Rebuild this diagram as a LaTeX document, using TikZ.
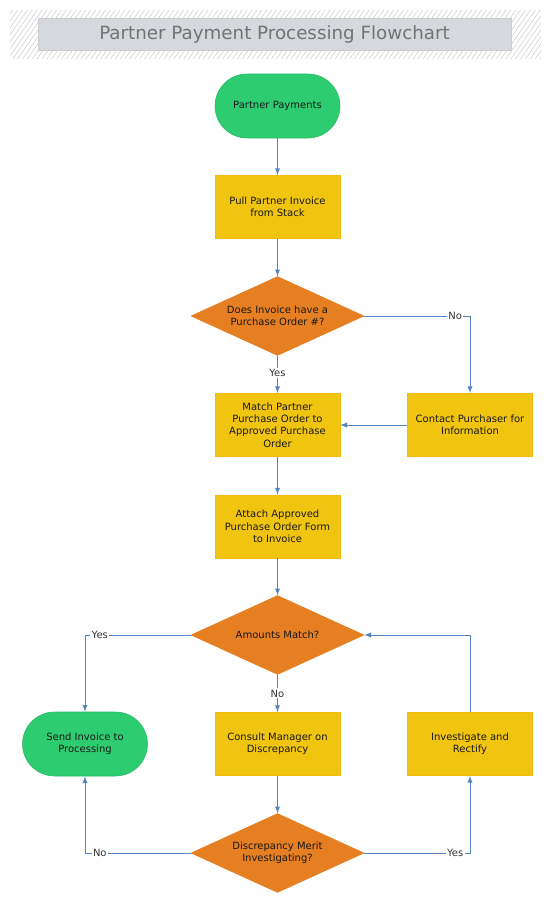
\documentclass[tikz,border=0pt]{standalone}
\usepackage{fontspec}
\setmainfont{DejaVu Sans}
\usetikzlibrary{arrows}
\usetikzlibrary{shapes.geometric,patterns.meta}

\definecolor{termgreen}{RGB}{46,204,113}
\definecolor{stepyellow}{RGB}{241,196,15}
\definecolor{askorange}{RGB}{230,126,34}
\definecolor{linkblue}{RGB}{84,132,190}
\definecolor{titlegrey}{RGB}{213,216,220}

\tikzset{
  terminal/.style={rectangle,rounded corners=24pt,fill=termgreen,draw=termgreen!90!black,
    minimum width=93.75pt,minimum height=48pt,align=center,inner sep=2pt},
  stepbox/.style={rectangle,fill=stepyellow,draw=stepyellow!85!orange,
    minimum width=93.75pt,minimum height=47.5pt,align=center,inner sep=2pt},
  ask/.style={diamond,fill=askorange,draw=askorange,aspect=2.2,inner sep=0pt,
    minimum width=129.75pt,minimum height=59.25pt,align=center},
  link/.style={draw=linkblue,line width=0.75pt,-latex},
  answer/.style={fill=white,inner sep=1pt,text=black!80}
}

\begin{document}
\begin{tikzpicture}[x=0.75pt,y=-0.75pt,font=\fontsize{7.5}{9.2}\selectfont,text=black!90]

		\useasboundingbox (0,0) rectangle (552,900);

		% title band
		\draw[draw=none,pattern={Lines[angle=55,distance=3pt,line width=0.4pt]},pattern color=black!20] (10,10) rectangle (541,58);
		\node[rectangle,fill=titlegrey,draw=black!20,minimum width=354.75pt,minimum height=24pt,
		      font=\fontsize{13.7}{15}\selectfont,text=black!55] (T) at (274.5,34) {Partner Payment Processing Flowchart};

		\node[terminal] (A) at (277.5,106) {Partner Payments};
		\node[stepbox] (B) at (277.5,207) {Pull Partner Invoice\\from Stack};
		\node[ask] (C) at (277.5,316) {Does Invoice have a\\Purchase Order \#?};
		\node[stepbox] (D) at (277.5,425) {Match Partner\\Purchase Order to\\Approved Purchase\\Order};
		\node[stepbox] (E) at (470,425) {Contact Purchaser for\\Information};
		\node[stepbox] (F) at (277.5,526.5) {Attach Approved\\Purchase Order Form\\to Invoice};
		\node[ask] (G) at (277.5,635) {Amounts Match?};
		\node[terminal] (H) at (85,744) {Send Invoice to\\Processing};
		\node[stepbox] (I) at (277.5,744) {Consult Manager on\\Discrepancy};
		\node[stepbox] (J) at (470,744) {Investigate and\\Rectify};
		\node[ask] (L) at (277.5,853) {Discrepancy Merit\\Investigating?};

		\draw[link] (A)--(B);
		\draw[link] (B)--(C);
		\draw[link] (C)--(D) node[answer,pos=0.45]{Yes};
		\draw[link] (C.east)-|(E.north) node[answer,pos=0.43]{No};
		\draw[link] (E)--(D);
		\draw[link] (D)--(F);
		\draw[link] (F)--(G);
		\draw[link] (G.west)-|(H.north) node[answer,pos=0.43]{Yes};
		\draw[link] (G)--(I) node[answer,pos=0.5]{No};
		\draw[link] (I)--(L);
		\draw[link] (L.west)-|(H.south) node[answer,pos=0.43]{No};
		\draw[link] (L.east)-|(J.south) node[answer,pos=0.43]{Yes};
		\draw[link] (J.north)|-(G.east);

	\end{tikzpicture}
\end{document}
